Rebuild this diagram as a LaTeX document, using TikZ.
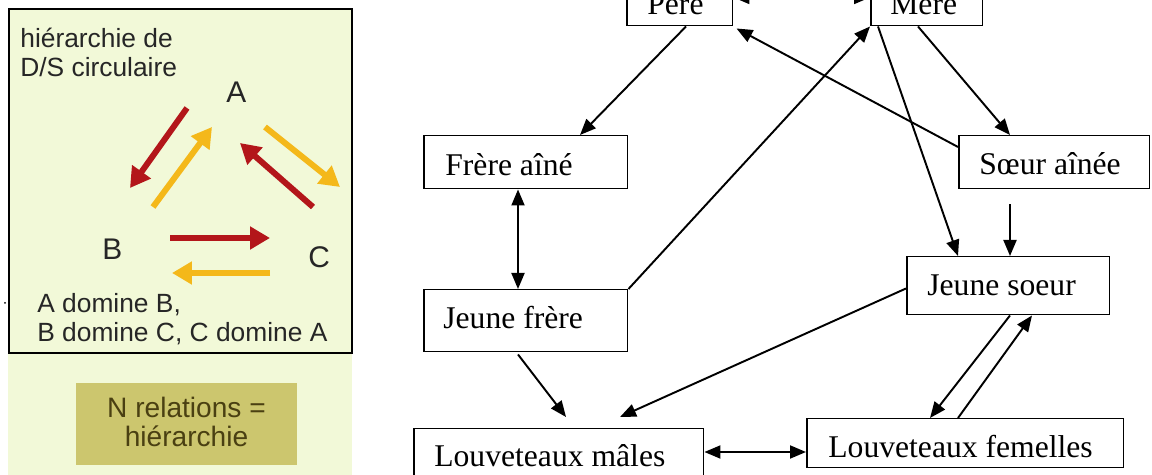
\documentclass[tikz,border=0pt]{standalone}
\usepackage{fontspec}
\setmainfont{Liberation Serif}
\newfontfamily\arialf{Liberation Sans}
\usetikzlibrary{arrows.meta,calc}
\definecolor{panelbg}{HTML}{F2F9D8}
\definecolor{dred}{HTML}{B3161A}
\definecolor{dyel}{HTML}{F4B81A}
\definecolor{olivebox}{HTML}{CCC66E}
\definecolor{olivetxt}{HTML}{4A4012}
\begin{document}
\begin{tikzpicture}[x=0.02cm,y=-0.02cm,
  box/.style={draw, line width=0.85pt, anchor=north west, inner sep=0pt, fill=white},
  lbl/.style={anchor=base west, inner sep=0pt, font=\fontsize{18}{22}\selectfont},
  conn/.style={line width=1.1pt, -{Triangle[length=0.32cm,width=0.26cm]}},
  conntwo/.style={line width=1.1pt, {Triangle[length=0.32cm,width=0.26cm]}-{Triangle[length=0.32cm,width=0.26cm]}},
  redarr/.style={line width=3.4pt, dred, -{Triangle[length=0.4cm,width=0.44cm]}},
  yelarr/.style={line width=3.4pt, dyel, -{Triangle[length=0.4cm,width=0.44cm]}},
  sanslbl/.style={anchor=base west, inner sep=0pt, font=\arialf\fontsize{15}{18}\selectfont, text=black!85},
  abc/.style={anchor=base west, inner sep=0pt, font=\arialf\fontsize{17}{20}\selectfont, text=black!85}]
\useasboundingbox (0,0) rectangle (1152,475);
\clip (0,0) rectangle (1152,475);

% ---------- left panel ----------
\fill[panelbg] (8,8) rectangle (352,475);
\draw[line width=1.2pt] (9,9) rectangle (352,353);
\node[sanslbl] (t1) at (20,48) {hiérarchie de};
\node[sanslbl] (t2) at (20,77) {D/S circulaire};
\node[abc] (A) at (226,103) {A};
\node[abc] (B) at (102,260) {B};
\node[abc] (C) at (308,268) {C};
\node[sanslbl] (t3) at (37,313) {A domine B,};
\node[sanslbl] (t4) at (37,342) {B domine C, C domine A};
\fill (5,303) circle (1);

\coordinate (ab1) at (187,108); \coordinate (ab2) at (130,188);
\coordinate (ba1) at (153,207); \coordinate (ba2) at (212,127);
\coordinate (ac1) at (265,127); \coordinate (ac2) at (340,187);
\coordinate (ca1) at (313,207); \coordinate (ca2) at (240,143);
\coordinate (bc1) at (170,238); \coordinate (bc2) at (270,238);
\coordinate (cb1) at (270,273); \coordinate (cb2) at (172,273);
\draw[redarr] (ab1) -- (ab2);
\draw[yelarr] (ba1) -- (ba2);
\draw[yelarr] (ac1) -- (ac2);
\draw[redarr] (ca1) -- (ca2);
\draw[redarr] (bc1) -- (bc2);
\draw[yelarr] (cb1) -- (cb2);

\node[fill=olivebox, anchor=north west, minimum width=4.42cm, minimum height=1.64cm, inner sep=0pt] (nrel) at (76,383) {};
\node[anchor=base, inner sep=0pt, font=\arialf\fontsize{16}{19}\selectfont, text=olivetxt] (nr1) at (186.5,418) {N relations =};
\node[anchor=base, inner sep=0pt, font=\arialf\fontsize{16}{19}\selectfont, text=olivetxt] (nr2) at (186.5,447) {hiérarchie};

% ---------- boxes ----------
\node[box, minimum width=2.12cm, minimum height=1.06cm] (pere) at (626,-28) {};
\node[box, minimum width=2.24cm, minimum height=1.06cm] (mere) at (870,-28) {};
\node[box, minimum width=4.08cm, minimum height=1.06cm] (fa) at (423,135) {};
\node[box, minimum width=3.82cm, minimum height=1.06cm] (sa) at (958,135) {};
\node[box, minimum width=4.08cm, minimum height=1.24cm] (jf) at (423,289) {};
\node[box, minimum width=4.06cm, minimum height=1.16cm] (js) at (906,256) {};
\node[box, minimum width=5.80cm, minimum height=1.16cm] (lm) at (413,428) {};
\node[box, minimum width=6.34cm, minimum height=0.98cm] (lf) at (806,418) {};

\node[lbl] (tpere) at (647,15) {Père};
\node[lbl] (tmere) at (890,15) {Mère};
\node[lbl] (tfa) at (445,176) {Frère aîné};
\node[lbl] (tsa) at (979,175) {Sœur aînée};
\node[lbl] (tjf) at (443,329) {Jeune frère};
\node[lbl] (tjs) at (927,296) {Jeune soeur};
\node[lbl] (tlm) at (434,467) {Louveteaux mâles};
\node[lbl] (tlf) at (828,458) {Louveteaux femelles};

% ---------- connectors ----------
\draw[conntwo] ($(pere.south east)+(0,-29)$) -- ($(mere.south west)+(0,-29)$);
\draw[conn] ($(pere.south west)+(60,0)$) -- ($(fa.north west)+(157,0)$);
\draw[conn] ($(sa.north west)+(0,12)$) -- ($(pere.south east)+(3,2)$);
\draw[conn] (jf.north east) -- (mere.south west);
\draw[conn] ($(mere.south west)+(8,0)$) -- ($(js.north west)+(52,0)$);
\draw[conn] ($(mere.south west)+(48,0)$) -- ($(sa.north west)+(52,0)$);
\draw[conn] ($(sa.south west)+(52,15)$) -- ($(js.north west)+(104,0)$);
\draw[conntwo] ($(fa.south west)+(95,0)$) -- ($(jf.north west)+(95,0)$);
\draw[conn] ($(jf.south west)+(95,2)$) -- ($(lm.north west)+(153,-11)$);
\draw[conn] ($(js.south west)+(0,-27)$) -- ($(lm.north west)+(207,-11)$);
\draw[conntwo] ($(lm.north east)+(0,24)$) -- ($(lf.north west)+(0,34)$);
\draw[conn] ($(js.south west)+(104,0)$) -- ($(lf.north west)+(124,0)$);
\draw[conn] ($(lf.north west)+(152,0)$) -- ($(js.south west)+(126,0)$);
\end{tikzpicture}
\end{document}
